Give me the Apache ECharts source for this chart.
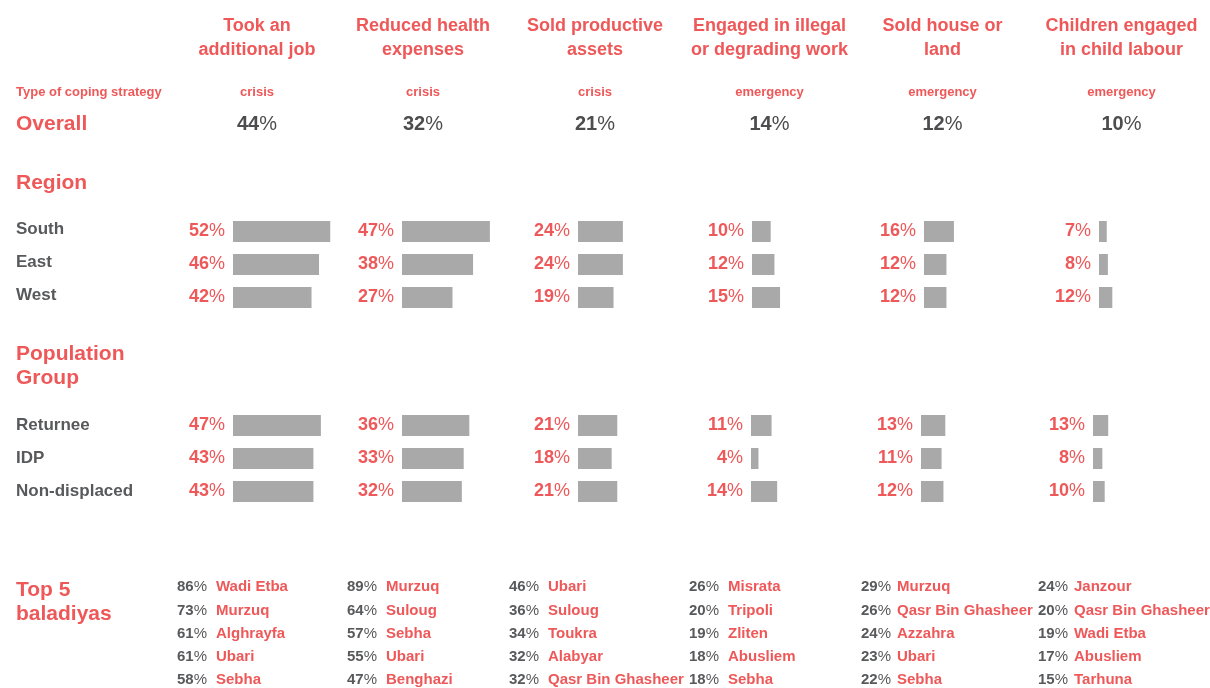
<!DOCTYPE html>
<html><head><meta charset="utf-8">
<script src="https://cdn.jsdelivr.net/npm/echarts@6/dist/echarts.min.js"></script>
<style>html,body{margin:0;padding:0;background:#fff}#c{width:1210px;height:688px}</style>
</head><body><div id="c"></div>
<script>
// ---- data ----
const strategies = ['Took an\nadditional job','Reduced health\nexpenses','Sold productive\nassets','Engaged in illegal\nor degrading work','Sold house or\nland','Children engaged\nin child labour'];
const strategyTypes = ['crisis','crisis','crisis','emergency','emergency','emergency'];
const overallValues = [44,32,21,14,12,10];
const regions = ['South','East','West'];
const regionValues = [[52,46,42],[47,38,27],[24,24,19],[10,12,15],[16,12,12],[7,8,12]];
const groups = ['Returnee','IDP','Non-displaced'];
const groupValues = [[47,43,43],[36,33,32],[21,18,21],[11,4,14],[13,11,12],[13,8,10]];
const top5Names = [
  ['Wadi Etba','Murzuq','Alghrayfa','Ubari','Sebha'],
  ['Murzuq','Suloug','Sebha','Ubari','Benghazi'],
  ['Ubari','Suloug','Toukra','Alabyar','Qasr Bin Ghasheer'],
  ['Misrata','Tripoli','Zliten','Abusliem','Sebha'],
  ['Murzuq','Qasr Bin Ghasheer','Azzahra','Ubari','Sebha'],
  ['Janzour','Qasr Bin Ghasheer','Wadi Etba','Abusliem','Tarhuna']];
const top5Values = [[86,73,61,61,58],[89,64,57,55,47],[46,36,34,32,32],[26,20,19,18,18],[29,26,24,23,22],[24,20,19,17,15]];

// ---- layout / style ----
const RED = '#EE5859', GRAY = '#58595B', DARK = '#4D4D4F', BAR = '#A9A9A9';
const FF = '"Liberation Sans", Arial, sans-serif';
const colCenters = [257, 423, 595, 769.5, 942.5, 1121.5];
const regionBarX = [233, 402, 578, 752, 924, 1099];
const groupBarX = [233, 402, 578, 751, 921, 1093];
const pctX = [177, 347, 509, 689, 861, 1038];
const nameX = [216, 386, 548, 728, 897, 1074];
const BAR_SPAN = 187; // pixels for 100%
const listY = [587, 610.5, 633.5, 656.5, 679.5];

const chart = echarts.init(document.getElementById('c'), null, {renderer: 'canvas'});

function txt(x, y, text, size, color, weight, align, extra) {
  return Object.assign({
    type: 'text', x: x, y: y, silent: true,
    style: Object.assign({
      text: text, fill: color, fontSize: size, fontWeight: weight || 'bold', fontFamily: FF,
      align: align || 'left', verticalAlign: 'middle',
      textAlign: align || 'left', textVerticalAlign: 'middle'
    }, extra || {})
  });
}

const graphics = [];
// headers
strategies.forEach((s, i) => {
  graphics.push(txt(colCenters[i], 38.5, s, 18, RED, 'bold', 'center', {lineHeight: 24}));
  graphics.push(txt(colCenters[i], 92, strategyTypes[i], 13, RED, 'bold', 'center'));
  graphics.push(txt(colCenters[i], 124.5, '{n|' + overallValues[i] + '}{p|%}', 20, DARK, 'bold', 'center', {
    rich: {n: {fontSize: 20, fontWeight: 'bold', fontFamily: FF, fill: DARK, color: DARK},
           p: {fontSize: 20, fontWeight: 'normal', fontFamily: FF, fill: DARK, color: DARK}}
  }));
});
graphics.push(txt(16, 92, 'Type of coping strategy', 13, RED, 'bold'));
graphics.push(txt(16, 124.5, 'Overall', 21, RED, 'bold'));
graphics.push(txt(16, 183.5, 'Region', 21, RED, 'bold'));
graphics.push(txt(16, 366, 'Population\nGroup', 21, RED, 'bold', 'left', {lineHeight: 24}));
graphics.push(txt(16, 602, 'Top 5\nbaladiyas', 21, RED, 'bold', 'left', {lineHeight: 24}));
regions.forEach((r, j) => graphics.push(txt(16, 229.5 + j * 33, r, 17, GRAY, 'bold')));
groups.forEach((g, j) => graphics.push(txt(16, 425.5 + j * 33, g, 17, GRAY, 'bold')));
// top 5 lists
top5Names.forEach((names, i) => {
  names.forEach((n, k) => {
    graphics.push(txt(pctX[i], listY[k], '{n|' + top5Values[i][k] + '}{p|%}', 15, GRAY, 'bold', 'left', {
      rich: {n: {fontSize: 15, fontWeight: 'bold', fontFamily: FF, fill: GRAY, color: GRAY},
             p: {fontSize: 15, fontWeight: 'normal', fontFamily: FF, fill: GRAY, color: GRAY}}
    }));
    graphics.push(txt(nameX[i], listY[k], n, 15, RED, 'bold'));
  });
});

const grids = [], xAxes = [], yAxes = [], series = [];
function addBlock(barX, top, cats, values) {
  barX.forEach((x, i) => {
    const idx = grids.length;
    grids.push({left: x, top: top, width: BAR_SPAN, height: 99, containLabel: false});
    xAxes.push({type: 'value', gridIndex: idx, min: 0, max: 100, show: false, splitLine: {show: false}});
    yAxes.push({type: 'category', gridIndex: idx, data: cats, inverse: true, show: false});
    series.push({
      type: 'bar', xAxisIndex: idx, yAxisIndex: idx, data: values[i], barWidth: 21,
      itemStyle: {color: BAR}, silent: true, animation: false,
      label: {
        show: true, position: 'left', distance: 8,
        formatter: p => '{n|' + p.value + '}{p|%}',
        rich: {n: {fontSize: 18, fontWeight: 'bold', fontFamily: FF, color: RED},
               p: {fontSize: 18, fontWeight: 'normal', fontFamily: FF, color: RED}}
      }
    });
  });
}
addBlock(regionBarX, 215, regions, regionValues);
addBlock(groupBarX, 409, groups, groupValues);

chart.setOption({
  animation: false,
  backgroundColor: '#fff',
  grid: grids, xAxis: xAxes, yAxis: yAxes, series: series,
  graphic: {elements: graphics}
});
</script></body></html>
